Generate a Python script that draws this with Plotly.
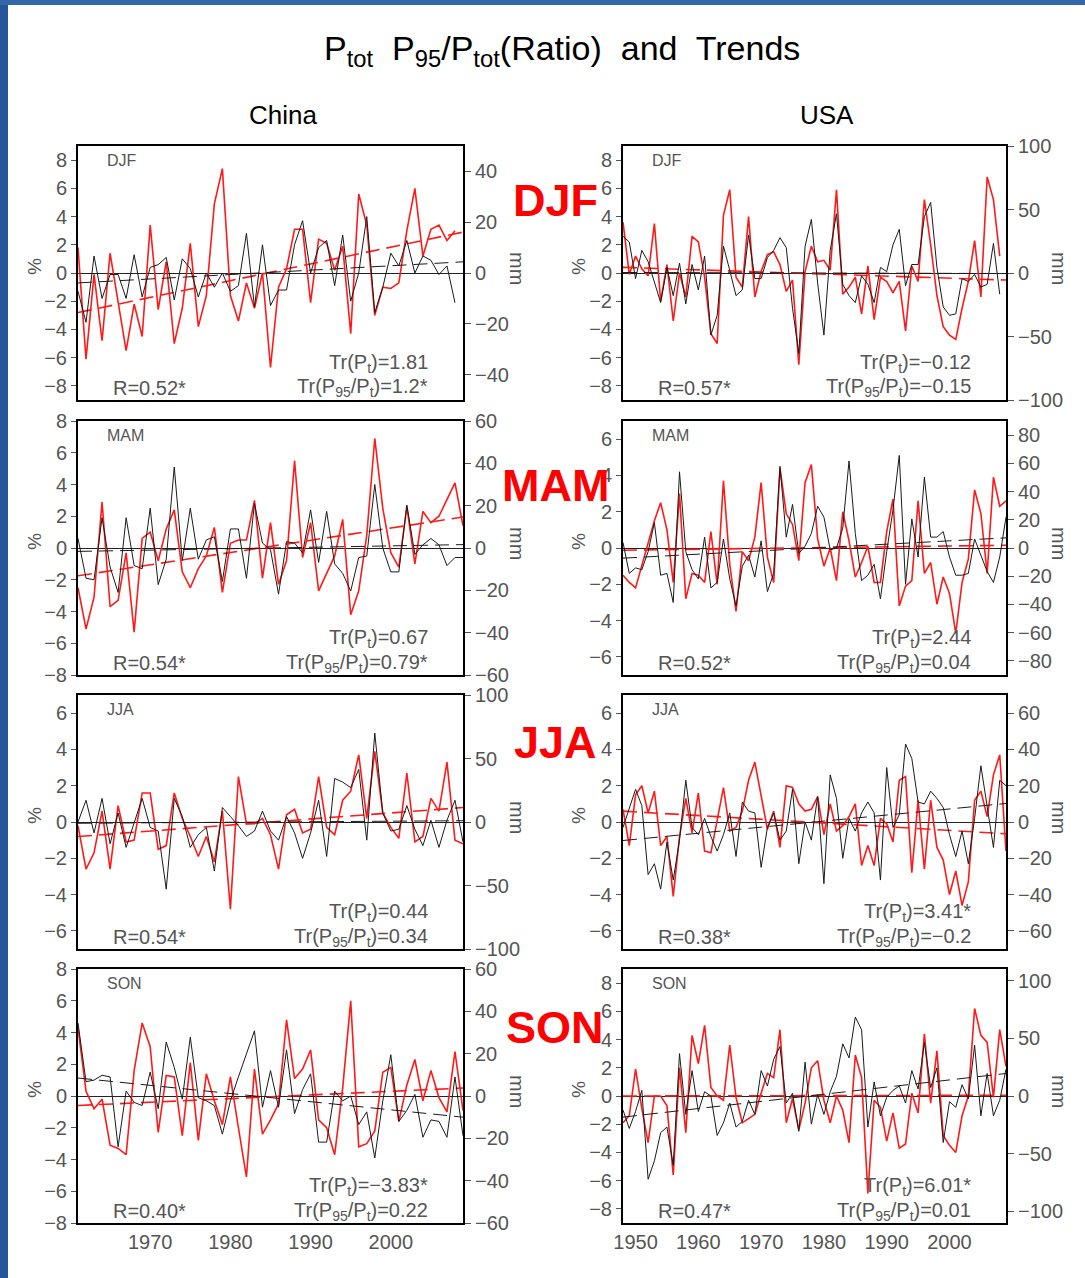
import plotly.graph_objects as go

# ---------------- data ----------------
china_years = list(range(1961, 2010))
china_djf_years = list(range(1961, 2009))
usa_years = list(range(1948, 2010))
usa_djf_years = list(range(1948, 2009))

china_djf_ratio = [1.8, -6.1, -0.1, -4.8, 1.4, -2.2, -5.5, -2.2, -4.5, 3.4, -2.6, 0.8, -5.0, -2.5, 2.1, -3.8,
                   -1.6, 4.9, 7.4, -1.6, -3.4, -0.7, -2.5, 0.0, -6.7, -1.0, 0.3, 3.1, 3.1, -2.1, 2.4, 2.1,
                   0.2, 1.9, -4.3, 5.6, 3.4, -3.0, -1.0, -1.1, -0.7, 3.0, 6.0, 1.2, 3.1, 3.4, 2.3, 3.0]
china_djf_ptot = [-7.2, -19.4, 6.7, -10, -0.6, -0.6, -10, 7.2, -9.4, 2.2, 3.3, 6.1, -10.6, 5.6, 1.7, -9.4,
                  0, -5.6, 0, -7.2, -5, 15.6, -13.3, 11.1, -12.8, -6.7, -6.7, 11.1, 20.6, 0, 10, 12.8,
                  -5, 15, -11.1, 0, 22.2, -15.6, -5.6, 7.8, 2.8, 12.8, 0, 6.7, 5, -0.6, 2.8, -11.7]

usa_djf_ratio = [3.6, -0.1, 1.2, 0.3, -0.2, 3.5, -2.0, 0.6, -3.4, 0.0,
                 -1.7, 2.6, 2.2, -0.3, -4.3, -5.0, 4.1, 5.9, -0.3, -1.0,
                 4.0, -1.7, 0.1, 1.3, 1.5, 0.6, -1.3, -0.5, -6.5, 0.1,
                 1.9, 0.8, 0.9, 0.2, 5.9, -1.5, -1.0, -0.3, -2.9, 0.5,
                 -3.3, -0.3, -0.6, -1.4, -0.6, -4.1, 0.5, -0.6, 5.2, 2.0,
                 -1.6, -3.8, -4.4, -4.7, -2.5, -0.6, 2.3, -1.7, 6.8, 5.2, 1.2]
usa_djf_ptot = [28.9, 24.4, -4.4, 17.8, 8.9, -6.7, -23.3, 4.4, -17.8, 7.8,
                -24.4, 6.7, -13.3, 13.3, -48.9, -33.3, 21.1, 2.2, -17.8, -13.3,
                30, -4.4, -4.4, 12.2, 17.8, 27.8, 20, -27.8, -63.3, 21.1,
                42.2, -7.8, -48.9, 17.8, 46.7, -8.9, -17.8, -23.3, -2.2, -8.9,
                -23.3, 4.4, 1.1, 22.2, 34.4, -10, 6.7, 6.7, 44.4, 55.6,
                4.4, -26.7, -33.3, -32.2, -4.4, -6.7, -1.1, -11.1, -8.9, 23.3, -16.7]

china_mam_ratio = [-2.5, -5.1, -3.1, 2.9, -3.7, -3.3, -0.3, -5.3, 0.6, 1.0,
                   -0.8, 1.2, 2.4, -1.5, -2.5, -1.3, -0.5, 1.3, -2.8, 0.3,
                   0.5, 0.5, 3.0, -1.9, 1.6, -2.3, -0.8, 5.5, -0.6, 1.6,
                   -2.7, -1.6, -0.5, 1.8, -4.2, -2.7, 0.8, 6.9, 2.5, -0.3,
                   -1.2, 2.6, -1.0, 2.3, 1.6, 2.0, 3.1, 4.1, 1.4]
china_mam_ptot = [4.5, -14.3, -15, 14.3, -9, -21, 14.3, -8.3, -9.8, 18.8,
                  -17.3, -5.3, 38.3, -6, 18.8, -5.3, 3.8, 5.3, -15.8, 9,
                  9, -14.3, 21, 2.3, -0.8, -21.8, 3, 2.3, -2.3, 18,
                  -6.8, 17.3, -7.5, -12, -20.3, -4.5, -3.8, 30, 0, -11.3,
                  -11.3, 20.3, -3, 1.5, 4.5, 1.5, -8.3, -4.5, -4.5]

usa_mam_ratio = [-1.5, -1.9, -2.2, -1.0, 0.3, 1.5, 2.5, 1.0, -1.9, 3.0,
                 -2.8, -1.4, -1.5, -1.9, 0.9, -2.0, 3.7, -0.9, -3.5, -0.2,
                 -0.7, 0.6, 3.6, -0.5, -1.9, 4.4, 1.9, 1.3, -0.7, 3.6,
                 4.6, 0.5, -1.0, 0.0, -1.8, 2.0, 0.4, -1.6, -0.8, 0.1,
                 -1.9, -1.9, 0.9, 2.7, -3.2, -2.1, -1.8, 2.6, -1.4, -0.8,
                 -3.1, -1.6, -2.5, -4.7, -1.9, -0.6, 3.2, 1.9, -1.4, 3.9, 2.3, 2.6]
usa_mam_ptot = [3.9, -18, -14.1, -15.4, -2.6, 18, -19.3, -18, -38.6, 54,
                -2.6, -15.4, -21.9, 7.7, -28.3, -24.4, 6.4, -21.9, -41.1, -12.9,
                -5.1, -20.6, 5.1, -30.9, -18, 57.9, 7.7, 30.9, -3.9, 1.3,
                10.3, 29.6, 21.9, -1.3, 0, 14.1, 61.7, 10.3, -23.1, -19.3,
                -11.6, -36, -2.6, 27, 65.6, -25.7, 20.6, -6.4, 50.2, 7.7,
                7.7, 11.6, -6.4, -19.3, -19.3, -18, 6.4, -5.1, -16.7, -24.4, -6.4, 21.9]

china_jja_ratio = [-0.2, -2.6, -1.7, 0.6, -2.6, 0.9, -1.1, -1.0, 1.6, 1.6,
                   -1.5, -1.3, 1.6, 0.2, -0.8, -1.9, -0.8, -2.2, 0.6, -4.8,
                   2.5, -0.1, -0.1, 0.2, -0.7, -2.6, 0.4, 0.7, -0.6, -0.4,
                   2.5, -0.3, -0.7, 1.2, 1.7, 3.7, 0.2, 3.9, 0.5, -0.3,
                   -0.9, 2.7, -1.1, -0.8, 1.3, 0.6, 3.3, -1.0, -1.2]
china_jja_ptot = [0, 17.1, -8.6, 18.6, -17.1, 7.1, -20, 0, 18.6, -4.3,
                  -7.1, -52.9, 18.6, 4.3, -20, -10, -4.3, -38.6, 11.4, 4.3,
                  -2.9, -11.4, -7.1, 8.6, -7.1, -14.3, 4.3, -8.6, -28.6, -8.6,
                  17.1, -27.1, 34.3, 31.4, 27.1, 41.4, -14.3, 70, 7.1, -7.1,
                  -5.7, 12.9, -5.7, -18.6, 1.4, -20, 1.4, 17.1, -15.7]

usa_jja_ratio = [0.7, -1.3, 1.5, 2.0, 0.5, 1.7, -1.3, -0.8, -4.1, -0.8,
                 1.3, -0.6, 1.6, -1.6, -1.7, 0.0, 1.9, -0.5, -0.3, 0.6,
                 2.3, 3.3, 1.4, -0.4, 0.6, -1.4, 2.0, 1.9, 1.0, 0.6,
                 0.7, 1.4, -0.7, 1.0, -0.5, -0.2, 0.3, 1.0, -2.4, -1.3,
                 -2.4, 0.2, -0.1, -1.1, 2.3, 2.5, -2.8, 1.2, -2.6, 1.2,
                 -1.4, -2.1, -4.0, -2.7, -4.6, -3.3, 1.2, 1.7, 0.3, 2.6, 3.7, -1.6]
usa_jja_ptot = [-3, 7, 18, 9, -29, -23, -37, -11, -32, -10,
                23, -3, -7, 2, -8, -16, -7, 5, -19, 11,
                6, 5, -25, -3, 5, -10, -5, 18, -23, 0,
                -10, 14, -34, 26, 13, -20, 2, -5, 5, 11,
                5, -32, 30, -3, 4, 43, 35, 11, 10, 17,
                13, 8, -7, -19, -5, -23, 2, 31, 9, -14, 23, 20]

china_son_ratio = [4.3, 0.3, -0.8, -0.2, -3.1, -3.3, -3.7, 1.6, 4.6, 3.1,
                   -2.3, 1.3, 1.2, -2.5, 2.1, -2.8, 1.4, -0.3, -1.8, 1.2,
                   -2.0, -5.1, 1.7, -2.4, -1.5, -0.5, 4.8, 1.1, 1.7, 2.9,
                   -1.5, -2.0, -3.7, 0.5, 6.0, -3.2, -3.0, -2.2, 1.5, 1.8,
                   -1.6, 0.7, 2.3, -0.3, 1.6, -0.1, -1.0, 2.8, -0.9]
china_son_ptot = [34.5, 6.8, 7.5, 9.8, 9, -24, 2.3, -3, -4.5, 11.3,
                  -6, 25.5, 13.5, -1.5, 27.8, -0.8, -2.3, -4.5, -18, -2.3,
                  9, 20.3, 30.8, -5.3, 12, -5.3, 21.8, -8.3, 3, 10.5,
                  -21.8, -21.8, 2.3, -2.3, 0, -13.5, -7.5, -29.3, -2.3, 19.5,
                  -12, -6.8, 0.8, -19.5, -11.3, -12, -19.5, 9, -18.8]

usa_son_ratio = [-1.9, -1.4, 1.9, -0.9, -3.3, 0.0, 0.0, -0.7, -5.6, 2.0,
                 -2.6, 4.3, 2.3, 5.0, 0.6, 0.0, -0.3, 3.6, -0.1, -1.9,
                 -1.6, -1.3, 0.2, 1.6, 1.3, 4.7, -1.9, -0.2, -2.4, -0.5,
                 2.0, 2.5, -0.3, -1.9, 0.0, -1.0, -3.3, 2.9, 1.3, -6.9,
                 -0.3, -0.8, -3.2, -1.2, -3.7, -3.4, 0.2, -1.2, 4.4, -0.5,
                 3.2, -2.8, -3.5, -4.0, -1.4, 0.0, 6.2, 4.3, 3.8, -0.1, 4.7, 2.1]
usa_son_ptot = [-12.2, -28.1, -13.4, 4.9, -72.1, -56.2, -31.8, -26.9, -59.9, 36.7,
                -15.9, 22, -13.4, 3.7, 0, -34.2, -23.2, -6.1, -26.9, -22,
                -3.7, -15.9, 22, 8.6, 31.8, 42.8, -6.1, 2.4, -30.6, 29.3,
                -24.4, 1.2, -15.9, 3.7, 17.1, 45.2, 33, 68.4, 57.4, -26.9,
                12.2, -17.1, -1.2, 4.9, 8.6, -6.1, 22, 6.1, 46.4, 7.3,
                24.4, -40.3, -4.9, -9.8, 9.8, -2.4, 44, -17.1, 19.6, -17.1, -3.7, 23.2]

# trend line end values (start year, end year of the axis)
china_trend_years = [1961, 2009]
usa_trend_years = [1948, 2009]
china_djf_ratio_trend = [-2.8, 2.9]
china_djf_ptot_trend = [-3.9, 4.4]
usa_djf_ratio_trend = [0.4, -0.5]
usa_djf_ptot_trend = [0.4, -0.4]
china_mam_ratio_trend = [-1.75, 1.95]
china_mam_ptot_trend = [-1.6, 1.6]
usa_mam_ratio_trend = [-0.12, 0.15]
usa_mam_ptot_trend = [-7.2, 7.2]
china_jja_ratio_trend = [-0.8, 0.8]
china_jja_ptot_trend = [-1.0, 1.0]
usa_jja_ratio_trend = [0.6, -0.65]
usa_jja_ptot_trend = [-10.2, 10.2]
china_son_ratio_trend = [-0.6, 0.5]
china_son_ptot_trend = [8.5, -10.0]
usa_son_ratio_trend = [0.0, 0.05]
usa_son_ptot_trend = [-18.3, 19.5]

seasons = ["DJF", "MAM", "JJA", "SON"]
china_x_ticks = [1970, 1980, 1990, 2000]
usa_x_ticks = [1950, 1960, 1970, 1980, 1990, 2000]

# stats text per panel: (R, Tr(Pt), Tr(P95/Pt))
china_stats = [("0.52*", "1.81", "1.2*"), ("0.54*", "0.67", "0.79*"),
               ("0.54*", "0.44", "0.34"), ("0.40*", "−3.83*", "0.22")]
usa_stats = [("0.57*", "−0.12", "−0.15"), ("0.52*", "2.44", "0.04"),
             ("0.38*", "3.41*", "−0.2"), ("0.47*", "6.01*", "0.01")]

# ---------------- panel configuration ----------------
panels = [
    dict(col=0, row=0, yrs=china_djf_years, ratio=china_djf_ratio, ptot=china_djf_ptot,
         rt=china_djf_ratio_trend, pt=china_djf_ptot_trend, ty=china_trend_years,
         yl=[-9, 9], ylt=[-8, -6, -4, -2, 0, 2, 4, 6, 8], yr=[-50, 50], yrt=[-40, -20, 0, 20, 40],
         xr=[1961, 2009], xt=china_x_ticks, stats=china_stats[0]),
    dict(col=1, row=0, yrs=usa_djf_years, ratio=usa_djf_ratio, ptot=usa_djf_ptot,
         rt=usa_djf_ratio_trend, pt=usa_djf_ptot_trend, ty=usa_trend_years,
         yl=[-9, 9], ylt=[-8, -6, -4, -2, 0, 2, 4, 6, 8], yr=[-100, 100], yrt=[-100, -50, 0, 50, 100],
         xr=[1948, 2009], xt=usa_x_ticks, stats=usa_stats[0]),
    dict(col=0, row=1, yrs=china_years, ratio=china_mam_ratio, ptot=china_mam_ptot,
         rt=china_mam_ratio_trend, pt=china_mam_ptot_trend, ty=china_trend_years,
         yl=[-8, 8], ylt=[-8, -6, -4, -2, 0, 2, 4, 6, 8], yr=[-60, 60], yrt=[-60, -40, -20, 0, 20, 40, 60],
         xr=[1961, 2009], xt=china_x_ticks, stats=china_stats[1]),
    dict(col=1, row=1, yrs=usa_years, ratio=usa_mam_ratio, ptot=usa_mam_ptot,
         rt=usa_mam_ratio_trend, pt=usa_mam_ptot_trend, ty=usa_trend_years,
         yl=[-7, 7], ylt=[-6, -4, -2, 0, 2, 4, 6], yr=[-90, 90], yrt=[-80, -60, -40, -20, 0, 20, 40, 60, 80],
         xr=[1948, 2009], xt=usa_x_ticks, stats=usa_stats[1]),
    dict(col=0, row=2, yrs=china_years, ratio=china_jja_ratio, ptot=china_jja_ptot,
         rt=china_jja_ratio_trend, pt=china_jja_ptot_trend, ty=china_trend_years,
         yl=[-7, 7], ylt=[-6, -4, -2, 0, 2, 4, 6], yr=[-100, 100], yrt=[-100, -50, 0, 50, 100],
         xr=[1961, 2009], xt=china_x_ticks, stats=china_stats[2]),
    dict(col=1, row=2, yrs=usa_years, ratio=usa_jja_ratio, ptot=usa_jja_ptot,
         rt=usa_jja_ratio_trend, pt=usa_jja_ptot_trend, ty=usa_trend_years,
         yl=[-7, 7], ylt=[-6, -4, -2, 0, 2, 4, 6], yr=[-70, 70], yrt=[-60, -40, -20, 0, 20, 40, 60],
         xr=[1948, 2009], xt=usa_x_ticks, stats=usa_stats[2]),
    dict(col=0, row=3, yrs=china_years, ratio=china_son_ratio, ptot=china_son_ptot,
         rt=china_son_ratio_trend, pt=china_son_ptot_trend, ty=china_trend_years,
         yl=[-8, 8], ylt=[-8, -6, -4, -2, 0, 2, 4, 6, 8], yr=[-60, 60], yrt=[-60, -40, -20, 0, 20, 40, 60],
         xr=[1961, 2009], xt=china_x_ticks, stats=china_stats[3]),
    dict(col=1, row=3, yrs=usa_years, ratio=usa_son_ratio, ptot=usa_son_ptot,
         rt=usa_son_ratio_trend, pt=usa_son_ptot_trend, ty=usa_trend_years,
         yl=[-9, 9], ylt=[-8, -6, -4, -2, 0, 2, 4, 6, 8], yr=[-110, 110], yrt=[-100, -50, 0, 50, 100],
         xr=[1948, 2009], xt=usa_x_ticks, stats=usa_stats[3]),
]

W, H = 1085, 1278
def fx(x): return x / W
def fy(y): return 1 - y / H

cols = [(78, 463), (623, 1006)]
tops = [146, 421, 695, 969]
PH = 254
FONT = "Liberation Sans"
GRAY = "#555555"
tickfont = dict(family=FONT, size=20, color=GRAY)

fig = go.Figure()
layout = {}
ann = []

def note(x, y, text, size, color=GRAY, xanchor="center", angle=0):
    ann.append(dict(x=fx(x), y=fy(y), xref="paper", yref="paper", text=text, showarrow=False,
                    xanchor=xanchor, yanchor="middle", textangle=angle,
                    font=dict(family=FONT, size=size, color=color)))

for i, p in enumerate(panels):
    xi = i + 1
    xname = "x" if xi == 1 else f"x{xi}"
    ln, rn = 2 * i + 1, 2 * i + 2
    ylname = "y" if ln == 1 else f"y{ln}"
    yrname = f"y{rn}"
    x0, x1 = cols[p["col"]]
    top = tops[p["row"]]
    bot = top + PH
    layout["xaxis" + ("" if xi == 1 else str(xi))] = dict(
        domain=[fx(x0), fx(x1)], anchor=ylname, range=p["xr"], showline=True, mirror=True,
        linecolor="black", linewidth=2, ticks="", showgrid=False, zeroline=False,
        tickvals=p["xt"], showticklabels=(p["row"] == 3), tickfont=tickfont)
    layout["yaxis" + ("" if ln == 1 else str(ln))] = dict(
        domain=[fy(bot), fy(top)], anchor=xname, range=[p["yl"][0] - 0.0001, p["yl"][1] + 0.0001],
        tickvals=p["ylt"], ticks="outside", ticklen=5, tickcolor=GRAY, showline=True,
        linecolor="black", linewidth=2, zeroline=True, zerolinecolor="#222", zerolinewidth=1,
        showgrid=False, tickfont=tickfont)
    layout[f"yaxis{rn}"] = dict(
        overlaying=ylname, side="right", anchor=xname, range=[p["yr"][0] - 0.001, p["yr"][1] + 0.001],
        tickvals=p["yrt"], ticks="outside", ticklen=6, tickcolor=GRAY, showline=True,
        linecolor="black", linewidth=2, zeroline=False, showgrid=False, tickfont=tickfont)

    fig.add_trace(go.Scatter(x=p["yrs"], y=p["ratio"], mode="lines", xaxis=xname, yaxis=ylname,
                             line=dict(color="#ff1a1a", width=1.6), showlegend=False))
    fig.add_trace(go.Scatter(x=p["ty"], y=p["rt"], mode="lines", xaxis=xname, yaxis=ylname,
                             line=dict(color="#ff1a1a", width=1.6, dash="14px,7px"), showlegend=False))
    fig.add_trace(go.Scatter(x=p["yrs"], y=p["ptot"], mode="lines", xaxis=xname, yaxis=yrname,
                             line=dict(color="#1a1a1a", width=1), showlegend=False))
    fig.add_trace(go.Scatter(x=p["ty"], y=p["pt"], mode="lines", xaxis=xname, yaxis=yrname,
                             line=dict(color="#1a1a1a", width=1, dash="14px,7px"), showlegend=False))

    season = seasons[p["row"]]
    note(x0 + 27, top + 14, season, 16, xanchor="left")
    R, trp, trr = p["stats"]
    note(x0 + 33, bot - 12, "R=" + R, 20, xanchor="left")
    note(x1 - 33, bot - 37, "Tr(P<sub>t</sub>)=" + trp, 20, xanchor="right")
    note(x1 - 33, bot - 12, "Tr(P<sub>95</sub>/P<sub>t</sub>)=" + trr, 20, xanchor="right")
    pct_x = 35 if p["col"] == 0 else 579
    mm_x = 517 if p["col"] == 0 else 1059
    note(pct_x, top + PH / 2 - 7, "%", 19, angle=90)
    note(mm_x, top + PH / 2 - 5, "mm", 20, angle=90)

big_y = [200, 485, 743, 1027]
for s, yy in zip(seasons, big_y):
    note(555, yy, "<b>" + s + "</b>", 45, color="#ff0000")

note(562, 50, "P<sub>tot</sub>  P<sub>95</sub>/P<sub>tot</sub>(Ratio)  and  Trends", 34, color="black")
note(283, 115, "China", 26, color="black")
note(827, 115, "USA", 26, color="black")

shapes = [
    dict(type="rect", xref="paper", yref="paper", x0=0, x1=fx(8), y0=0, y1=1,
         fillcolor="#24579a", line=dict(width=0), layer="above"),
    dict(type="rect", xref="paper", yref="paper", x0=0, x1=1, y0=fy(5), y1=1,
         fillcolor="#3566a8", line=dict(width=0), layer="above"),
]

fig.update_layout(**layout)
fig.update_layout(width=W, height=H, margin=dict(l=0, r=0, t=0, b=0, pad=0, autoexpand=False),
                  paper_bgcolor="white", plot_bgcolor="white", annotations=ann, shapes=shapes,
                  showlegend=False)
fig.write_html("out.html", config={"displayModeBar": False},
               post_script="document.body.style.margin='0px';")
